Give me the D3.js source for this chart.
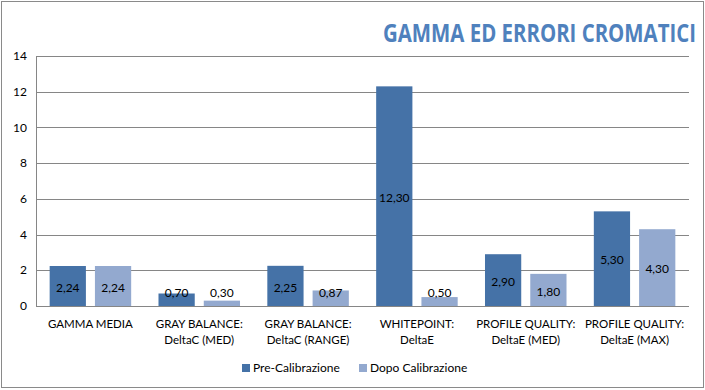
<!DOCTYPE html>
<html><head><meta charset="utf-8">
<script src="https://cdn.jsdelivr.net/npm/d3@7"></script>
<style>
html,body{margin:0;padding:0;background:#fff;}
svg{display:block;font-family:Lato,"Open Sans",sans-serif;}
</style></head>
<body>
<svg id="chart" width="705" height="390"></svg>
<script>
const categories = [
  ["GAMMA MEDIA"],
  ["GRAY BALANCE:", "DeltaC (MED)"],
  ["GRAY BALANCE:", "DeltaC (RANGE)"],
  ["WHITEPOINT:", "DeltaE"],
  ["PROFILE QUALITY:", "DeltaE (MED)"],
  ["PROFILE QUALITY:", "DeltaE (MAX)"]
];
const seriesNames = ["Pre-Calibrazione", "Dopo Calibrazione"];
const preValues = [2.24, 0.70, 2.25, 12.30, 2.90, 5.30];
const postValues = [2.24, 0.30, 0.87, 0.50, 1.80, 4.30];
const yTicks = [0, 2, 4, 6, 8, 10, 12, 14];
const titleText = "GAMMA ED ERRORI CROMATICI";
const colors = ["#4572A7", "#93A9CF"];

const svg = d3.select("#chart");
const W = 705, H = 390;
const mLeft = 36, mRight = 689, mTop = 56, mBottom = 306;

// outer border
svg.append("rect").attr("x", 1.5).attr("y", 1.5).attr("width", W - 3).attr("height", H - 4)
  .attr("fill", "#fff").attr("stroke", "#8a8a8a").attr("stroke-width", 1);

// title (narrow-looking bold text: smaller font stretched vertically)
svg.append("text").attr("transform", "translate(383,42) scale(1,1.3)")
  .attr("x", 0).attr("y", 0).attr("text-anchor", "start")
  .attr("font-family", "'Open Sans',Lato,sans-serif").attr("font-weight", "bold")
  .attr("font-size", 19).attr("fill", "#4F81BD")
  .attr("textLength", 313).attr("lengthAdjust", "spacingAndGlyphs")
  .text(titleText);

const x0 = d3.scaleBand().domain(d3.range(categories.length)).range([mLeft, mRight]).paddingInner(0).paddingOuter(0);
const y = d3.scaleLinear().domain([0, 14]).range([mBottom, mTop]);

// gridlines
svg.append("g").selectAll("line").data(yTicks.filter(t => t > 0)).join("line")
  .attr("x1", mLeft).attr("x2", mRight)
  .attr("y1", d => Math.round(y(d)) + 0.5).attr("y2", d => Math.round(y(d)) + 0.5)
  .attr("stroke", "#868686").attr("stroke-width", 1);

// y axis labels
svg.append("g").selectAll("text").data(yTicks).join("text")
  .attr("x", 27).attr("y", d => y(d)).attr("dy", "0.35em").attr("text-anchor", "end")
  .attr("font-size", 12).attr("fill", "#000").text(d => d);

const bw = x0.bandwidth();
const barW = bw * 0.333;
const gap = bw * 0.083;
const pad = (bw - 2 * barW - gap) / 2;
const series = [preValues, postValues];

series.forEach((vals, si) => {
  const g = svg.append("g");
  g.selectAll("rect").data(vals).join("rect")
    .attr("x", (d, i) => x0(i) + pad + si * (barW + gap))
    .attr("y", d => y(d))
    .attr("width", barW)
    .attr("height", d => y(0) - y(d))
    .attr("fill", colors[si]);
  g.selectAll("text").data(vals).join("text")
    .attr("x", (d, i) => x0(i) + pad + si * (barW + gap) + barW / 2)
    .attr("y", d => Math.min((y(d) + y(0)) / 2 + 1.5, y(0) - 13))
    .attr("dy", "0.35em").attr("text-anchor", "middle")
    .attr("font-size", 12).attr("fill", "#000")
    .text(d => d3.format(".2f")(d).replace(".", ","));
});

// axes lines
svg.append("line").attr("x1", mLeft + 0.5).attr("x2", mLeft + 0.5).attr("y1", mTop).attr("y2", mBottom)
  .attr("stroke", "#868686");
svg.append("line").attr("x1", mLeft).attr("x2", mRight).attr("y1", mBottom + 0.5).attr("y2", mBottom + 0.5)
  .attr("stroke", "#868686");

// category labels
const cg = svg.append("g");
categories.forEach((lines, i) => {
  const t = cg.append("text").attr("text-anchor", "middle").attr("font-size", 11.5).attr("fill", "#000");
  lines.forEach((ln, j) => {
    t.append("tspan").attr("x", x0(i) + bw / 2).attr("y", 328 + j * 16).text(ln);
  });
});

// legend
const legend = svg.append("g");
const legX = [242, 359];
seriesNames.forEach((name, i) => {
  legend.append("rect").attr("x", legX[i]).attr("y", 364).attr("width", 8).attr("height", 8).attr("fill", colors[i]);
  legend.append("text").attr("x", legX[i] + 11).attr("y", 372).attr("font-size", 12).attr("fill", "#000").text(name);
});
</script>
</body></html>
